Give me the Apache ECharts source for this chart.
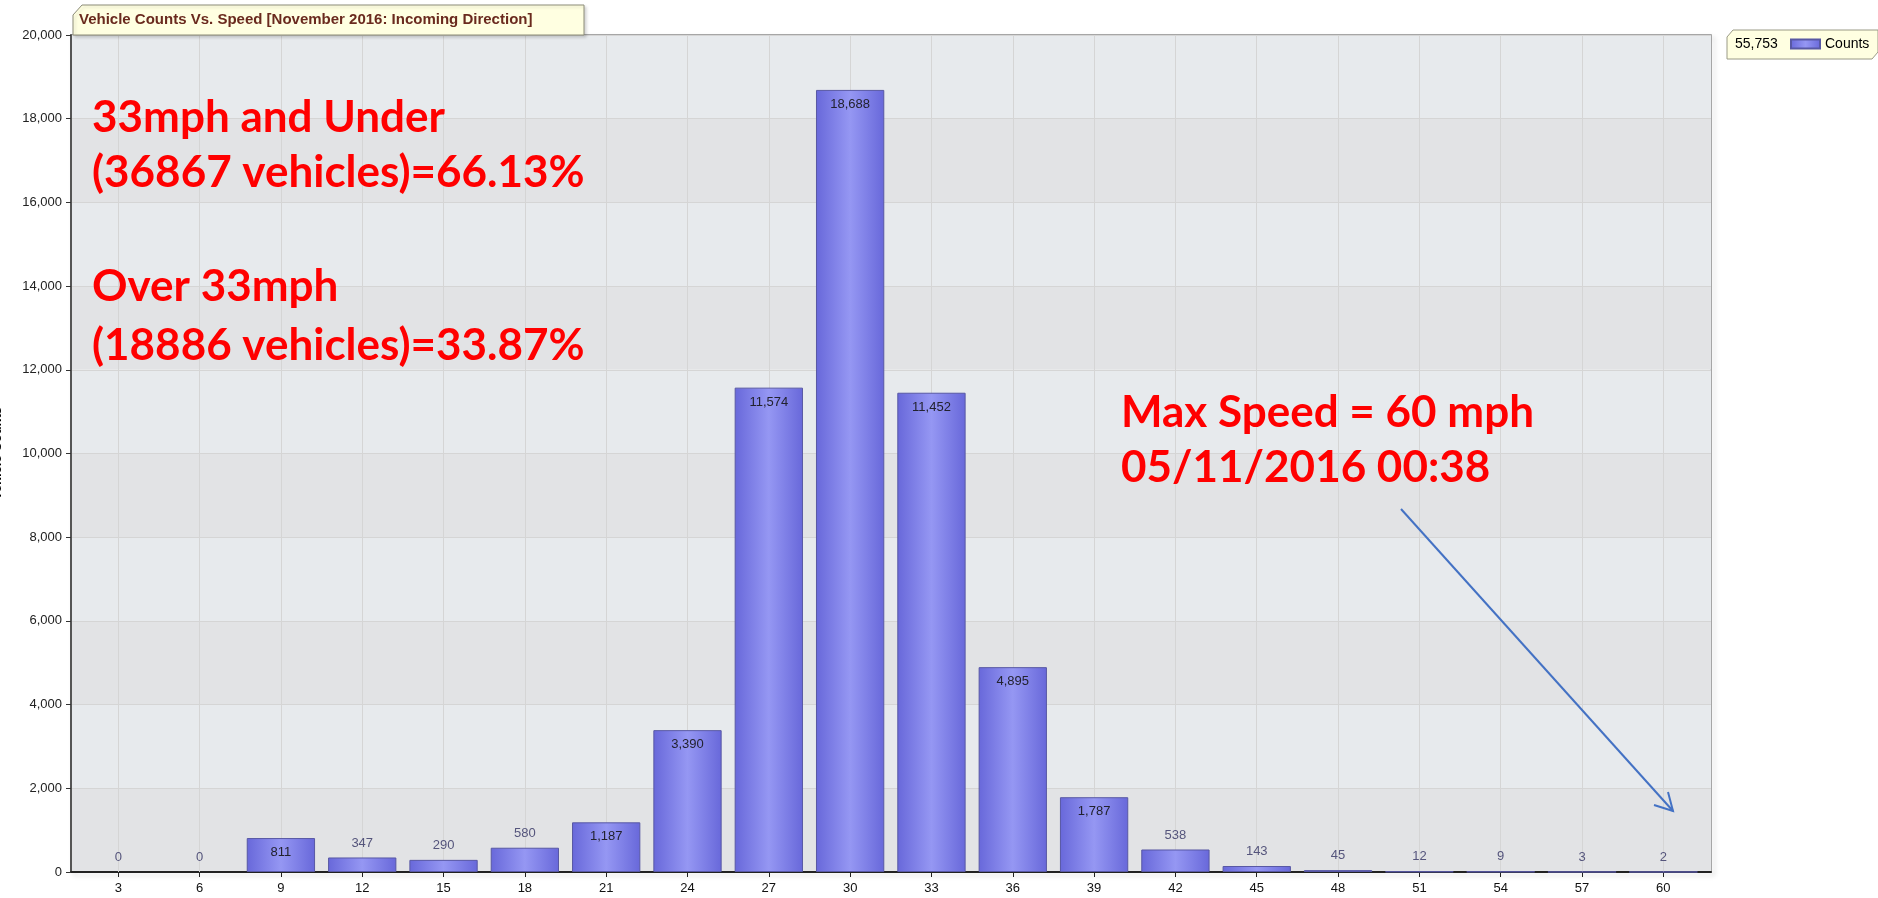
<!DOCTYPE html>
<html><head><meta charset="utf-8">
<script src="https://cdn.jsdelivr.net/npm/echarts@6/dist/echarts.min.js"></script>
<style>html,body{margin:0;padding:0;background:#fff}#c{width:1878px;height:898px}</style>
</head><body><div id="c"></div>
<script>
// ---- data ----
const speeds = ['3','6','9','12','15','18','21','24','27','30','33','36','39','42','45','48','51','54','57','60'];
const counts = [0,0,811,347,290,580,1187,3390,11574,18688,11452,4895,1787,538,143,45,12,9,3,2];
const yMin = 0, yMax = 20000, yStep = 2000;
const chartTitle = 'Vehicle Counts Vs. Speed [November 2016: Incoming Direction]';
const yName = 'Vehicle Counts';
const seriesName = 'Counts';
const noteLeft = ['33mph and Under', '(36867 vehicles)=66.13%', 'Over 33mph', '(18886 vehicles)=33.87%'];
const noteRight = ['Max Speed = 60 mph', '05/11/2016 00:38'];

const fmt = v => Number(v).toLocaleString('en-US');
const total = counts.reduce((a, b) => a + b, 0);

const barColor = {
  type: 'linear', x: 0, y: 0, x2: 1, y2: 0,
  colorStops: [
    {offset: 0, color: '#6868da'},
    {offset: 0.5, color: '#9597f3'},
    {offset: 1, color: '#6868da'}
  ]
};

const chart = echarts.init(document.getElementById('c'));
const redText = (t, x, y) => ({
  type: 'text', x: x, y: y, z: 100,
  style: {text: t, fill: '#ff0000', font: 'bold 44px Lato', verticalAlign: 'middle'}
});

chart.setOption({
  animation: false,
  backgroundColor: '#ffffff',
  grid: [
    {left: 71, right: 167, top: 35, bottom: 26, outerBoundsMode: 'none', containLabel: false,
     show: true, borderColor: '#8a8a8a', borderWidth: 1.5,
     backgroundColor: 'transparent', shadowColor: 'rgba(0,0,0,0.18)', shadowBlur: 5, shadowOffsetX: 3, shadowOffsetY: 3},
    {left: 77.6, right: 174, top: 35, bottom: 26, outerBoundsMode: 'none', containLabel: false}
  ],
  xAxis: [
    {gridIndex: 0, type: 'value', min: 0, max: 1,
     axisLine: {show: true, lineStyle: {color: '#222', width: 2}},
     axisTick: {show: false}, axisLabel: {show: false}, splitLine: {show: false}},
    {gridIndex: 1, type: 'category', data: speeds, boundaryGap: true, z: 1,
     axisLine: {show: false},
     axisTick: {show: true, alignWithLabel: true, length: 5, lineStyle: {color: '#222'}},
     axisLabel: {color: '#111', fontSize: 13, fontFamily: 'Liberation Sans', margin: 10},
     splitLine: {show: true, alignWithLabel: true, lineStyle: {color: '#d5d5d5', width: 1}}}
  ],
  yAxis: [
    {gridIndex: 0, type: 'value', min: yMin, max: yMax, interval: yStep,
     name: yName, nameLocation: 'middle', nameGap: 67,
     nameTextStyle: {fontWeight: 'bold', fontSize: 13, color: '#000', fontFamily: 'Liberation Sans'},
     axisLine: {show: true, lineStyle: {color: '#555', width: 2}},
     axisTick: {show: true, length: 5, lineStyle: {color: '#333'}},
     axisLabel: {color: '#222', fontSize: 13, fontFamily: 'Liberation Sans', margin: 9, formatter: v => fmt(v)},
     splitLine: {show: true, lineStyle: {color: '#d5d5d5', width: 1}},
     splitArea: {show: true, areaStyle: {color: ['#e2e3e5', '#e7eaed']}}},
    {gridIndex: 1, type: 'value', min: yMin, max: yMax, interval: yStep, show: false,
     splitLine: {show: false}}
  ],
  legend: {
    data: [seriesName], left: 1790, top: 37, padding: 0, icon: 'rect',
    itemWidth: 29, itemHeight: 9,
    textStyle: {fontSize: 14, color: '#000', fontFamily: 'Liberation Sans'}
  },
  series: [{
    name: seriesName, type: 'bar', xAxisIndex: 1, yAxisIndex: 1, barWidth: '84%', z: 2,
    itemStyle: {color: barColor, borderColor: '#5858a4', borderWidth: 1},
    label: {show: true, fontSize: 13, fontFamily: 'Liberation Sans', distance: 8, formatter: p => fmt(p.value)},
    data: counts.map(v => ({
      value: v,
      itemStyle: v === 0 ? {borderWidth: 0} : undefined,
      label: v >= 700 ? {position: 'insideTop', color: '#22222e'} : {position: 'top', color: '#55557c'}
    }))
  }],
  graphic: [
    {type: 'polygon', z: 50, shape: {points: [[73, 15], [82, 5], [584, 5], [584, 35], [73, 35]]},
     style: {fill: '#ffffe1', stroke: '#8c8c78', lineWidth: 1, shadowColor: 'rgba(0,0,0,0.15)', shadowBlur: 3, shadowOffsetX: 2, shadowOffsetY: 2}},
    {type: 'text', z: 51, x: 79, y: 20,
     style: {text: chartTitle, fill: '#6a2a1e', font: 'bold 15px "Liberation Sans"', verticalAlign: 'middle'}},
    {type: 'polygon', z: 1, shape: {points: [[1727, 37], [1733, 30], [1878, 30], [1878, 52], [1872, 59], [1727, 59]]},
     style: {fill: '#ffffe1', stroke: '#9a9a86', lineWidth: 1}},
    {type: 'text', z: 51, x: 1735, y: 44.5,
     style: {text: fmt(total), fill: '#000', font: '14px "Liberation Sans"', verticalAlign: 'middle'}},
    redText(noteLeft[0], 92, 118),
    redText(noteLeft[1], 92, 173),
    redText(noteLeft[2], 92, 287),
    redText(noteLeft[3], 92, 346),
    redText(noteRight[0], 1121, 413),
    redText(noteRight[1], 1121, 468),
    {type: 'line', z: 100, shape: {x1: 1401, y1: 509, x2: 1673, y2: 811},
     style: {stroke: '#4472c4', lineWidth: 2}},
    {type: 'polyline', z: 100, shape: {points: [[1668, 792], [1673, 811], [1654, 805]]},
     style: {stroke: '#4472c4', lineWidth: 2, fill: null}}
  ]
});
</script>
</body></html>
